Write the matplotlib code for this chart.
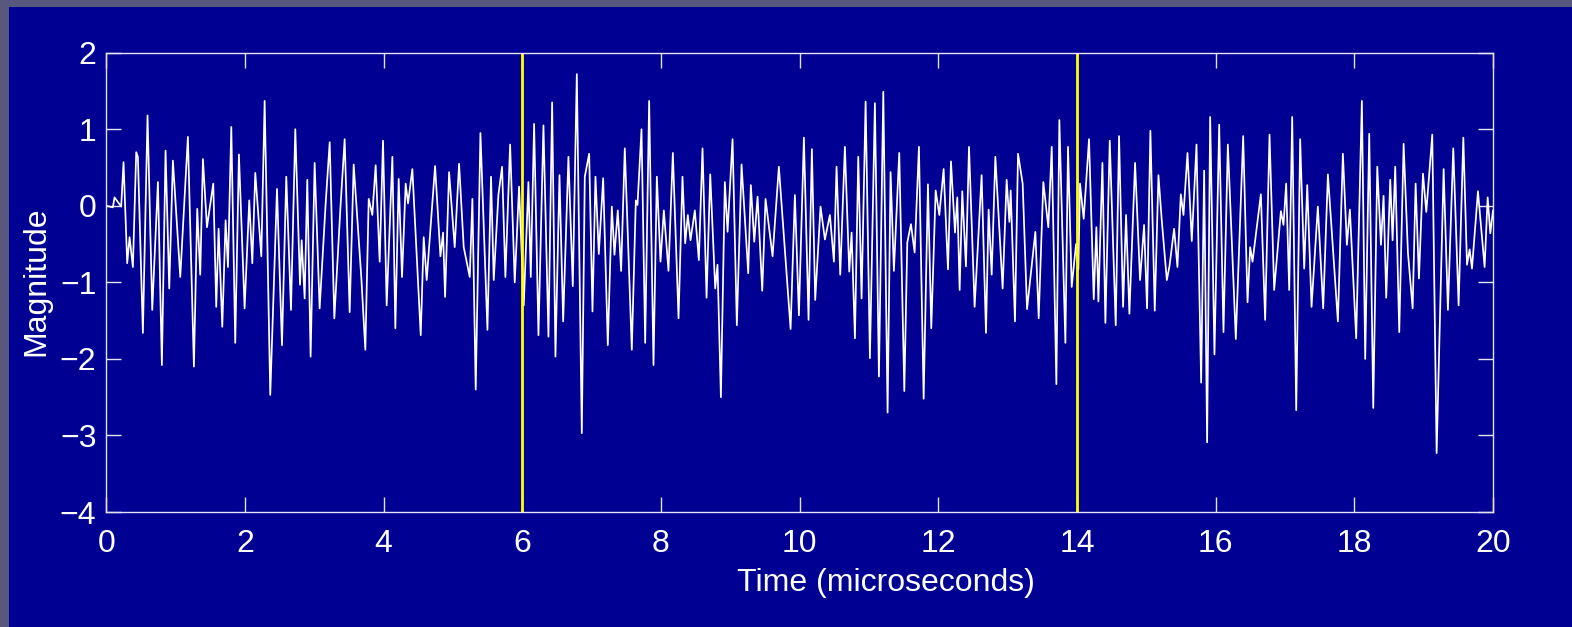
import matplotlib
matplotlib.use("Agg")
import matplotlib.pyplot as plt
from matplotlib.patches import Rectangle

# waveform peaks and troughs
time_us = [
    0.0, 0.096, 0.12, 0.216, 0.25, 0.303, 0.337, 0.385, 0.433, 0.457, 0.529, 0.596, 0.664, 0.746, 0.803, 0.856,
    0.909, 0.962, 1.068, 1.178, 1.265, 1.313, 1.356, 1.395, 1.453, 1.544, 1.587, 1.621, 1.674, 1.722, 1.756, 1.804,
    1.861, 1.914, 1.996, 2.063, 2.107, 2.150, 2.237, 2.285, 2.366, 2.463, 2.535, 2.597, 2.665, 2.727, 2.795, 2.819,
    2.862, 2.900, 2.948, 3.006, 3.078, 3.165, 3.223, 3.290, 3.377, 3.439, 3.511, 3.569, 3.680, 3.737, 3.786, 3.838,
    3.886, 3.944, 3.992, 4.045, 4.127, 4.170, 4.218, 4.266, 4.319, 4.353, 4.415, 4.536, 4.579, 4.622, 4.743, 4.820,
    4.858, 4.887, 4.945, 5.026, 5.089,
    5.156, 5.243, 5.281, 5.329, 5.397, 5.498, 5.550, 5.589, 5.656, 5.709, 5.757, 5.825, 5.892, 5.954, 6.022, 6.089,
    6.123, 6.171, 6.234, 6.306, 6.378, 6.431, 6.479, 6.537, 6.590, 6.666, 6.729, 6.787, 6.859, 6.902, 6.965, 7.013,
    7.056, 7.104, 7.167, 7.234, 7.292, 7.330, 7.378, 7.426, 7.479, 7.580, 7.638, 7.662, 7.720, 7.773, 7.830, 7.893,
    7.941, 7.994, 8.042, 8.109, 8.172, 8.254, 8.311, 8.350, 8.388, 8.427, 8.489, 8.547, 8.600, 8.658, 8.711, 8.783,
    8.816, 8.865, 8.922, 8.961, 9.033, 9.095, 9.163, 9.259, 9.297, 9.346, 9.394, 9.461, 9.509, 9.610, 9.701, 9.870,
    9.932, 9.990, 10.062,
    10.129, 10.177, 10.225, 10.302, 10.365, 10.437, 10.495, 10.533, 10.586, 10.653, 10.716, 10.750, 10.798, 10.846,
    10.894, 10.952, 11.014, 11.086, 11.144, 11.207, 11.269, 11.312, 11.360, 11.437, 11.510, 11.553, 11.606, 11.659,
    11.721, 11.789, 11.851, 11.899, 11.962, 12.015, 12.077, 12.140, 12.183, 12.241, 12.274, 12.308, 12.346, 12.399,
    12.443, 12.524, 12.625, 12.688, 12.726, 12.770, 12.823, 12.928, 12.986, 13.025, 13.044, 13.106, 13.150, 13.217,
    13.280, 13.400, 13.448, 13.515, 13.587, 13.636, 13.703, 13.746, 13.833, 13.871, 13.924, 13.987, 14.020, 14.044,
    14.097, 14.174, 14.242, 14.280, 14.309, 14.367, 14.410, 14.473, 14.559, 14.607, 14.665, 14.708, 14.756, 14.838,
    14.910, 14.968, 15.011, 15.059,
    15.122, 15.175, 15.223, 15.296, 15.334, 15.401, 15.449, 15.498, 15.536, 15.594, 15.656, 15.724, 15.791, 15.834,
    15.877, 15.921, 15.983, 16.051, 16.113, 16.176, 16.291, 16.397, 16.460, 16.498, 16.532, 16.652, 16.714, 16.777,
    16.844, 16.941, 16.979, 17.017, 17.061, 17.104, 17.162, 17.219, 17.277, 17.321, 17.383, 17.474, 17.551, 17.619,
    17.763, 17.835, 17.893, 17.936, 18.027, 18.109, 18.157, 18.215, 18.273, 18.331, 18.384, 18.422, 18.460, 18.518,
    18.552, 18.590, 18.648, 18.711, 18.773, 18.841, 18.884, 18.932, 18.990, 19.038, 19.124, 19.187, 19.288, 19.350,
    19.427, 19.504, 19.572, 19.625, 19.663, 19.697, 19.783, 19.879, 19.923, 19.961, 20.0,
]
magnitude = [
    0.0, -0.02, 0.11, -0.01, 0.57, -0.75, -0.41, -0.80, 0.70, 0.64, -1.66, 1.18, -1.36, 0.31, -2.08, 0.72,
    -1.08, 0.59, -0.93, 0.90, -2.10, -0.04, -0.90, 0.61, -0.28, 0.29, -1.32, -0.30, -1.58, -0.19, -0.80, 1.03,
    -1.79, 0.67, -1.34, 0.07, -0.75, 0.43, -0.66, 1.37, -2.47, 0.22, -1.82, 0.38, -1.36, 1.00, -1.03, -0.45,
    -1.21, 0.34, -1.97, 0.56, -1.34, 0.03, 0.83, -1.47, -0.04, 0.87, -1.39, 0.54, -0.95, -1.88, 0.09, -0.12,
    0.53, -0.73, 0.85, -1.30, 0.64, -1.60, 0.35, -0.93, 0.29, 0.03, 0.48, -1.69, -0.41, -0.97, 0.52, -0.66,
    -0.35, -1.19, 0.44, -0.54, 0.55,
    -0.54, -0.93, 0.09, -2.40, 0.95, -1.62, 0.38, -0.97, 0.14, 0.51, -0.93, 0.80, -1.00, 0.25, -1.30, 0.31,
    -0.93, 1.07, -1.69, 1.05, -1.71, 1.35, -1.97, 0.40, -1.51, 0.64, -1.05, 1.72, -2.97, 0.38, 0.68, -1.38,
    0.38, -0.63, 0.36, -1.82, -0.01, -0.64, -0.06, -0.85, 0.75, -1.88, 0.07, 0.01, 1.00, -1.79, 1.37, -2.08,
    0.38, -0.73, -0.06, -0.85, 0.69, -1.47, 0.38, -0.49, -0.12, -0.45, -0.06, -0.71, 0.75, -1.20, 0.41, -1.08,
    -0.77, -2.50, 0.31, -0.34, 0.87, -1.56, 0.54, -0.88, 0.27, -0.47, 0.12, -1.11, 0.09, -0.66, 0.51, -1.61,
    0.14, -1.43, 0.89,
    -1.49, 0.74, -1.23, -0.01, -0.44, -0.12, -0.73, 0.51, -0.90, 0.77, -0.86, -0.35, -1.73, 0.64,
    -1.21, 1.36, -1.99, 1.34, -2.23, 1.49, -2.70, 0.44, -0.85, 0.69, -2.42, -0.48, -0.24, -0.61,
    0.77, -2.52, 0.28, -1.60, 0.20, -0.12, 0.48, -0.83, 0.58, -0.35, 0.11, -1.10, 0.19, -0.79,
    0.77, -1.32, 0.40, -1.66, -0.05, -0.90, 0.64, -1.08, 0.34, -0.21, 0.20, -1.51, 0.68, 0.29,
    -1.35, -0.34, -1.47, 0.31, -0.28, 0.77, -2.33, 1.12, -1.79, 0.77, -1.06, -0.50, -0.83, 0.29,
    -0.17, 0.87, -1.22, -0.28, -1.25, 0.56, -1.53, 0.85, -1.56, 0.91, -1.32, -0.12, -1.41, 0.56,
    -0.97, -0.25, -1.34, 0.98,
    -1.37, 0.40, -0.19, -0.97, -0.79, -0.30, -0.80, 0.15, -0.12, 0.69, -0.46, 0.80, -2.31, 0.46,
    -3.09, 1.16, -1.94, 1.06, -1.65, 0.80, -1.74, 0.91, -1.26, -0.54, -0.73, 0.15, -1.49, 0.93,
    -1.10, -0.07, -0.25, 0.29, -1.10, 1.16, -2.67, 0.87, -0.82, 0.27, -1.32, -0.01, -1.34, 0.41,
    -1.51, 0.68, -0.51, -0.05, -1.73, 1.37, -2.00, 0.94, -2.64, 0.51, -0.51, 0.13, -1.20, 0.34,
    -0.45, 0.51, -1.65, 0.81, -0.61, -1.34, 0.29, -0.95, 0.42, -0.08, 0.93, -3.23, 0.48, -1.36,
    0.75, -1.30, 0.89, -0.77, -0.57, -0.82, 0.19, -0.80, 0.11, -0.36, -0.06,
]
marker_times = [6, 14]
x_ticks = [0, 2, 4, 6, 8, 10, 12, 14, 16, 18, 20]
y_ticks = [-4, -3, -2, -1, 0, 1, 2]

plt.rcParams['font.family'] = ['Liberation Sans', 'DejaVu Sans']

W, H = 1572, 627
fig = plt.figure(figsize=(W / 100, H / 100), dpi=100, facecolor='#58587f')
fig.patches.append(Rectangle((9 / W, 0), 1 - 9 / W, 1 - 7 / H, transform=fig.transFigure,
                             facecolor='#000092', edgecolor='none', zorder=-1))

left, right, top, bottom = 106.2, 1493, 52.7, 512
ax = fig.add_axes([left / W, 1 - bottom / H, (right - left) / W, (bottom - top) / H])
ax.set_facecolor('#000092')

line_col = '#e4e4f4'
ax.plot(time_us, magnitude, color='white', lw=1.25)
for t in marker_times:
    ax.axvline(t, color='#ffff00', lw=2.0)

ax.set_xlim(0, 20)
ax.set_ylim(-4, 2)
ax.set_xticks(x_ticks)
ax.set_yticks(y_ticks)
ax.tick_params(direction='in', length=10.5, width=1.0, color=line_col, top=True, right=True,
               labelcolor='white', labelsize=23)
ax.tick_params(axis='x', pad=12)
ax.tick_params(axis='y', pad=7)
for s in ax.spines.values():
    s.set_color(line_col)
    s.set_linewidth(1.0)

ax.set_xlabel('Time (microseconds)', color='white', fontsize=23, x=0.5625, labelpad=6.5)
ax.set_ylabel('Magnitude', color='white', fontsize=23, labelpad=6, y=0.503)

fig.savefig('out.png', dpi=100, facecolor=fig.get_facecolor())
